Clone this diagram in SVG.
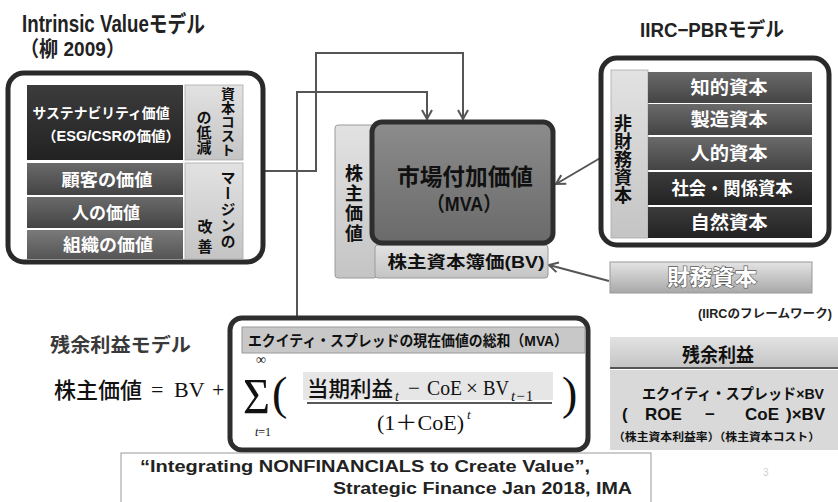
<svg xmlns="http://www.w3.org/2000/svg" width="838" height="502" viewBox="0 0 838 502">
<defs>
<style>
.jp{font-family:'Liberation Sans','Noto Sans CJK JP',sans-serif;font-weight:700}
.w{fill:#fff}
.k{fill:#111}
.vt{writing-mode:vertical-rl;font-family:'Noto Sans CJK JP',sans-serif;font-weight:700;fill:#111}
.panel{fill:#fff;stroke:#2a2a2a;stroke-width:5}
.conn{fill:none;stroke:#555;stroke-width:2}
.ser{font-family:'Liberation Serif','Noto Sans CJK JP',serif;fill:#111}
.cjk{font-family:'Noto Sans CJK JP',sans-serif;font-weight:500;fill:#111}
</style>
<linearGradient id="gDark" x1="0" y1="0" x2="0" y2="1"><stop offset="0" stop-color="#3c3c3c"/><stop offset="1" stop-color="#222"/></linearGradient>
<linearGradient id="gMid" x1="0" y1="0" x2="0" y2="1"><stop offset="0" stop-color="#6a6a6a"/><stop offset="1" stop-color="#444"/></linearGradient>
<linearGradient id="gMid2" x1="0" y1="0" x2="0" y2="1"><stop offset="0" stop-color="#7a7a7a"/><stop offset="1" stop-color="#555"/></linearGradient>
<linearGradient id="gLight" x1="0" y1="0" x2="0" y2="1"><stop offset="0" stop-color="#e2e2e2"/><stop offset="1" stop-color="#c4c4c4"/></linearGradient>
<linearGradient id="gMVA" x1="0" y1="0" x2="0" y2="1"><stop offset="0" stop-color="#8c8c8c"/><stop offset="1" stop-color="#6a6a6a"/></linearGradient>
<linearGradient id="gFin" x1="0" y1="0" x2="0" y2="1"><stop offset="0" stop-color="#e4e4e4"/><stop offset="1" stop-color="#a8a8a8"/></linearGradient>
<marker id="arr" viewBox="0 0 12 12" refX="10" refY="6" markerWidth="12" markerHeight="12" markerUnits="userSpaceOnUse" orient="auto">
<path d="M1,1 L10,6 L1,11" fill="none" stroke="#555" stroke-width="2"/>
</marker>
</defs>
<rect width="838" height="502" fill="#fff"/>

<!-- titles -->
<g id="title-intrinsic">
<text x="22" y="32" class="jp" font-size="23" fill="#222" textLength="183" lengthAdjust="spacingAndGlyphs">Intrinsic Valueモデル</text>
<text x="20" y="56" class="jp" font-size="21" fill="#222" textLength="105" lengthAdjust="spacingAndGlyphs">（柳 2009）</text>
</g>
<g id="title-iirc">
<text x="640" y="37" class="jp" font-size="20" fill="#222" textLength="144" lengthAdjust="spacingAndGlyphs">IIRC−PBRモデル</text>
</g>
<g id="title-residual">
<text x="50" y="352" class="jp" font-size="19" fill="#3a3a3a" textLength="141" lengthAdjust="spacingAndGlyphs">残余利益モデル</text>
</g>

<!-- connectors -->
<g id="connectors">
<path class="conn" d="M263,171 H316 V53 H463 V119" marker-end="url(#arr)"/>
<path class="conn" d="M297,318 V92 H427 V119" marker-end="url(#arr)"/>
<path class="conn" d="M602,157 L556,184" marker-end="url(#arr)"/>
<path class="conn" d="M609,281 L549,265" marker-end="url(#arr)"/>
</g>

<!-- left panel -->
<g id="intrinsic-panel">
<rect class="panel" x="8" y="73" width="255" height="189" rx="16"/>
<rect x="27" y="85" width="156" height="75" fill="url(#gDark)"/>
<text x="101" y="118" class="jp w" font-size="14" text-anchor="middle" textLength="137" lengthAdjust="spacingAndGlyphs">サステナビリティ価値</text>
<text x="111" y="141" class="jp w" font-size="14" text-anchor="middle" textLength="138" lengthAdjust="spacingAndGlyphs">（ESG/CSRの価値）</text>
<rect x="185" y="85" width="58" height="75" fill="url(#gLight)" stroke="#aaa" stroke-width="0.8"/>
<text x="228" y="87" class="vt" font-size="14">資本コスト</text>
<text x="204" y="110" class="vt" font-size="15">の低減</text>
<rect x="27" y="163" width="156" height="32" fill="url(#gMid)"/>
<text x="107" y="186" class="jp w" font-size="17" text-anchor="middle" textLength="91" lengthAdjust="spacingAndGlyphs">顧客の価値</text>
<rect x="27" y="197" width="156" height="31" fill="url(#gMid)"/>
<text x="106" y="219" class="jp w" font-size="17" text-anchor="middle" textLength="68" lengthAdjust="spacingAndGlyphs">人の価値</text>
<rect x="27" y="230" width="156" height="29" fill="url(#gMid2)"/>
<text x="108" y="251" class="jp w" font-size="17" text-anchor="middle" textLength="90" lengthAdjust="spacingAndGlyphs">組織の価値</text>
<rect x="185" y="163" width="58" height="96" fill="url(#gLight)" stroke="#aaa" stroke-width="0.8"/>
<text x="228" y="170" class="vt" font-size="15" letter-spacing="1">マージンの</text>
<text x="205" y="219" class="vt" font-size="15" letter-spacing="5">改善</text>
</g>

<!-- center -->
<g id="shareholder-value">
<rect x="335" y="125" width="42" height="153" rx="3" fill="url(#gLight)" stroke="#9a9a9a" stroke-width="1"/>
<text x="354" y="164" class="vt" font-size="18" letter-spacing="2">株主価値</text>
</g>
<g id="bv">
<rect x="375" y="245" width="173" height="33" rx="3" fill="url(#gLight)" stroke="#9a9a9a" stroke-width="1"/>
<text x="466" y="268" class="jp k" font-size="17" text-anchor="middle" textLength="157" lengthAdjust="spacingAndGlyphs">株主資本簿価(BV)</text>
</g>
<g id="mva">
<rect x="372" y="122" width="181" height="121" rx="10" fill="url(#gMVA)" stroke="#2e2e2e" stroke-width="5"/>
<text x="465" y="185" class="jp k" font-size="23" text-anchor="middle" textLength="136" lengthAdjust="spacingAndGlyphs">市場付加価値</text>
<text x="464" y="211" class="jp k" font-size="20" text-anchor="middle" textLength="74" lengthAdjust="spacingAndGlyphs">（MVA）</text>
</g>

<!-- right panel -->
<g id="iirc-panel">
<rect class="panel" x="601" y="58" width="228" height="187" rx="16"/>
<rect x="611" y="70" width="37" height="168" fill="url(#gLight)" stroke="#aaa" stroke-width="0.8"/>
<text x="623" y="114" class="vt" font-size="18">非財務資本</text>
<rect x="648" y="72" width="164" height="31" fill="url(#gMid)"/>
<text x="729" y="94" class="jp w" font-size="18" text-anchor="middle" textLength="77" lengthAdjust="spacingAndGlyphs">知的資本</text>
<rect x="648" y="104" width="164" height="31" fill="url(#gMid)"/>
<text x="729" y="126" class="jp w" font-size="18" text-anchor="middle" textLength="77" lengthAdjust="spacingAndGlyphs">製造資本</text>
<rect x="648" y="137" width="164" height="33" fill="url(#gMid)"/>
<text x="729" y="160" class="jp w" font-size="18" text-anchor="middle" textLength="77" lengthAdjust="spacingAndGlyphs">人的資本</text>
<rect x="648" y="172" width="164" height="33" fill="url(#gDark)"/>
<text x="732" y="195" class="jp w" font-size="18" text-anchor="middle" textLength="121" lengthAdjust="spacingAndGlyphs">社会・関係資本</text>
<rect x="648" y="207" width="164" height="31" fill="url(#gDark)"/>
<text x="729" y="229" class="jp w" font-size="18" text-anchor="middle" textLength="77" lengthAdjust="spacingAndGlyphs">自然資本</text>
</g>
<g id="financial-capital">
<rect x="610" y="262" width="202" height="31" fill="url(#gFin)" stroke="#999" stroke-width="1"/>
<text x="712" y="285" class="jp" font-size="22" fill="#fff" stroke="#5a5a5a" stroke-width="1.3" paint-order="stroke" text-anchor="middle" textLength="90" lengthAdjust="spacingAndGlyphs">財務資本</text>
<text x="698" y="318" class="jp" font-size="12" fill="#222" textLength="134" lengthAdjust="spacingAndGlyphs">(IIRCのフレームワーク)</text>
</g>

<!-- residual income box -->
<g id="residual-income">
<rect x="610" y="337" width="228" height="31" fill="url(#gLight)"/>
<line x1="610" y1="368" x2="838" y2="368" stroke="#555" stroke-width="2"/>
<text x="718" y="362" class="jp k" font-size="19" text-anchor="middle" textLength="72" lengthAdjust="spacingAndGlyphs">残余利益</text>
<rect x="610" y="370" width="228" height="80" fill="#d9d9d9"/>
<text x="642" y="399" class="jp k" font-size="15" textLength="182" lengthAdjust="spacingAndGlyphs">エクイティ・スプレッド×BV</text>
<text y="420" class="jp k" font-size="17"><tspan x="622">(</tspan><tspan x="645">ROE</tspan><tspan x="705">−</tspan><tspan x="745">CoE</tspan><tspan x="786">)×BV</tspan></text>
<text x="613" y="441" class="jp k" font-size="11" textLength="207" lengthAdjust="spacingAndGlyphs">（株主資本利益率）（株主資本コスト）</text>
</g>

<!-- formula -->
<g id="formula">
<text x="54" y="398" class="cjk" font-size="22" textLength="88" lengthAdjust="spacingAndGlyphs">株主価値</text>
<text x="151" y="397" class="ser" font-size="22">=</text>
<text x="174" y="397" class="ser" font-size="22">BV</text>
<text x="212" y="397" class="ser" font-size="22">+</text>
<rect x="230" y="318" width="358" height="132" rx="12" fill="#fff" stroke="#2e2e2e" stroke-width="5"/>
<rect x="242" y="327" width="343" height="26" fill="#c8c8c8" stroke="#9a9a9a" stroke-width="1"/>
<text x="248" y="346" class="jp k" font-size="15" textLength="320" lengthAdjust="spacingAndGlyphs">エクイティ・スプレッドの現在価値の総和（MVA）</text>
<text x="261" y="364" class="ser" font-size="14" text-anchor="middle">∞</text>
<text x="243" y="413" class="ser" font-size="50" textLength="27" lengthAdjust="spacingAndGlyphs">Σ</text>
<text x="263" y="436" class="ser" font-size="12" text-anchor="middle"><tspan font-style="italic">t</tspan>=1</text>
<text x="272" y="409" class="ser" font-size="46">(</text>
<rect x="303" y="372" width="250" height="28" fill="#e6e6e6"/>
<text x="307" y="396" class="cjk" font-size="21" textLength="86" lengthAdjust="spacingAndGlyphs">当期利益</text>
<text x="395" y="401" class="ser" font-size="14" font-style="italic">t</text>
<text x="408" y="395" class="ser" font-size="21">−</text>
<text x="427" y="395" class="ser" font-size="21" textLength="35" lengthAdjust="spacingAndGlyphs">CoE</text>
<text x="466" y="395" class="ser" font-size="21">×</text>
<text x="483" y="395" class="ser" font-size="21" textLength="26" lengthAdjust="spacingAndGlyphs">BV</text>
<text x="511" y="401" class="ser" font-size="15" letter-spacing="1"><tspan font-style="italic">t</tspan>−1</text>
<line x1="307" y1="403" x2="552" y2="403" stroke="#222" stroke-width="1.5"/>
<text x="377" y="430" class="ser" font-size="20" textLength="87" lengthAdjust="spacingAndGlyphs">(1＋CoE)</text>
<text x="467" y="419" class="ser" font-size="13" font-style="italic">t</text>
<text x="562" y="409" class="ser" font-size="46">)</text>
</g>

<!-- citation -->
<g id="citation">
<rect x="121" y="453" width="530" height="60" fill="#fff" stroke="#999" stroke-width="1"/>
<text x="140" y="472" class="jp" font-size="16" fill="#222" textLength="450" lengthAdjust="spacingAndGlyphs">“Integrating NONFINANCIALS to Create Value”,</text>
<text x="333" y="494" class="jp" font-size="16" fill="#222" textLength="299" lengthAdjust="spacingAndGlyphs">Strategic Finance Jan 2018, IMA</text>
</g>
<text x="763" y="476" font-family="'Liberation Sans',sans-serif" font-size="10" fill="#d0d0d0">3</text>
</svg>
